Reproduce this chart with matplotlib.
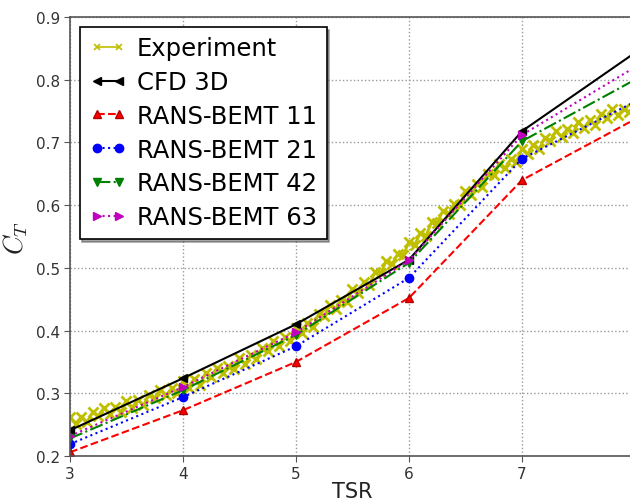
import numpy as np
import matplotlib
matplotlib.use('Agg')
import matplotlib.pyplot as plt

plt.rcParams['mathtext.fontset'] = 'cm'

# Datos
tsr_sim = [3, 4, 5, 6, 7, 8]
ct_cfd = [0.241, 0.324, 0.410, 0.513, 0.718, 0.843]
ct_bemt11 = [0.206, 0.273, 0.350, 0.452, 0.640, 0.737]
ct_bemt21 = [0.219, 0.294, 0.375, 0.484, 0.674, 0.765]
ct_bemt42 = [0.228, 0.305, 0.393, 0.508, 0.702, 0.800]
ct_bemt63 = [0.232, 0.310, 0.397, 0.512, 0.712, 0.820]

# Experimento (muestreo cada 0.05 de TSR)
tsr_exp = np.round(np.linspace(3, 8, 101), 2)
ct_exp = [
    0.262, 0.251, 0.263, 0.254, 0.270, 0.264, 0.277, 0.267, 0.278, 0.270,
    0.287, 0.277, 0.290, 0.281, 0.298, 0.292, 0.306, 0.297, 0.308, 0.301,
    0.319, 0.309, 0.323, 0.314, 0.332, 0.326, 0.341, 0.332, 0.344, 0.338,
    0.356, 0.347, 0.361, 0.354, 0.372, 0.368, 0.384, 0.376, 0.389, 0.384,
    0.404, 0.396, 0.412, 0.406, 0.426, 0.423, 0.441, 0.434, 0.449, 0.445,
    0.466, 0.460, 0.477, 0.472, 0.494, 0.492, 0.511, 0.506, 0.522, 0.520,
    0.542, 0.537, 0.555, 0.551, 0.573, 0.572, 0.591, 0.586, 0.602, 0.600,
    0.622, 0.616, 0.634, 0.629, 0.650, 0.648, 0.666, 0.659, 0.673, 0.669,
    0.689, 0.681, 0.696, 0.689, 0.707, 0.703, 0.718, 0.709, 0.721, 0.715,
    0.732, 0.723, 0.736, 0.728, 0.745, 0.739, 0.753, 0.743, 0.754, 0.748,
    0.765,
]

x_ticks = [3, 4, 5, 6, 7, 8]
x_tick_labels = ['3', '4', '5', '6', '7', '']
y_ticks = [0.2, 0.3, 0.4, 0.5, 0.6, 0.7, 0.8, 0.9]
y_tick_labels = ['0.2', '0.3', '0.4', '0.5', '0.6', '0.7', '0.8', '0.9']

fig = plt.figure(figsize=(6.3, 5.02), dpi=100)
ax = fig.add_axes([0.1111, 0.0896, 0.8968, 0.8745])

exp_line, = ax.plot(tsr_exp, ct_exp, color=(0.75, 0.75, 0), marker='x', markersize=7,
                    markeredgewidth=2, linewidth=2, label='Experiment')
ax.plot(tsr_sim, ct_cfd, color='black', marker='<', markersize=6,
        linewidth=1.5, label='CFD 3D')
ax.plot(tsr_sim, ct_bemt11, color='red', linestyle='--', marker='^',
        markersize=6, markeredgecolor=(0.7, 0, 0), linewidth=1.5, label='RANS-BEMT 11')
ax.plot(tsr_sim, ct_bemt21, color='blue', linestyle=':', marker='o',
        markersize=6, linewidth=1.5, label='RANS-BEMT 21')
ax.plot(tsr_sim, ct_bemt42, color=(0, 0.5, 0), linestyle='-.', marker='v',
        markersize=6, linewidth=1.5, label='RANS-BEMT 42')
ax.plot(tsr_sim, ct_bemt63, color=(0.75, 0, 0.75), linestyle=':', marker='>',
        markersize=6, linewidth=1.5, label='RANS-BEMT 63')

ax.set_xlim(3, 8)
ax.set_ylim(0.2, 0.9)
ax.set_xticks(x_ticks)
ax.set_xticklabels(x_tick_labels)
ax.set_yticks(y_ticks)
ax.set_yticklabels(y_tick_labels)
ax.tick_params(direction='out', length=4, labelsize=11, labelcolor='#333333',
               color='#555555', pad=3)
ax.grid(True, linestyle=':', color='#999999', linewidth=1)
for s in ax.spines.values():
    s.set_color('#555555')
    s.set_linewidth(1.2)

ax.set_xlabel('TSR', fontsize=15, color='#222222', labelpad=0)
ax.set_ylabel('$C_T$', fontsize=19, color='#222222', labelpad=4)

leg = ax.legend(loc='upper left', numpoints=2, fontsize=17.5, handlelength=1.5,
                handletextpad=0.45, labelspacing=0.4, borderaxespad=0.4,
                borderpad=0.4, shadow=True, fancybox=False, framealpha=1)
leg.get_frame().set_edgecolor('black')
leg.get_frame().set_linewidth(1.2)
# marcadores finos en la leyenda del experimento
leg.legend_handles[0].set_markersize(5)
leg.legend_handles[0].set_markeredgewidth(1.2)
leg.legend_handles[0].set_linewidth(1.2)

plt.savefig('out.png', dpi=100)
plt.close()
